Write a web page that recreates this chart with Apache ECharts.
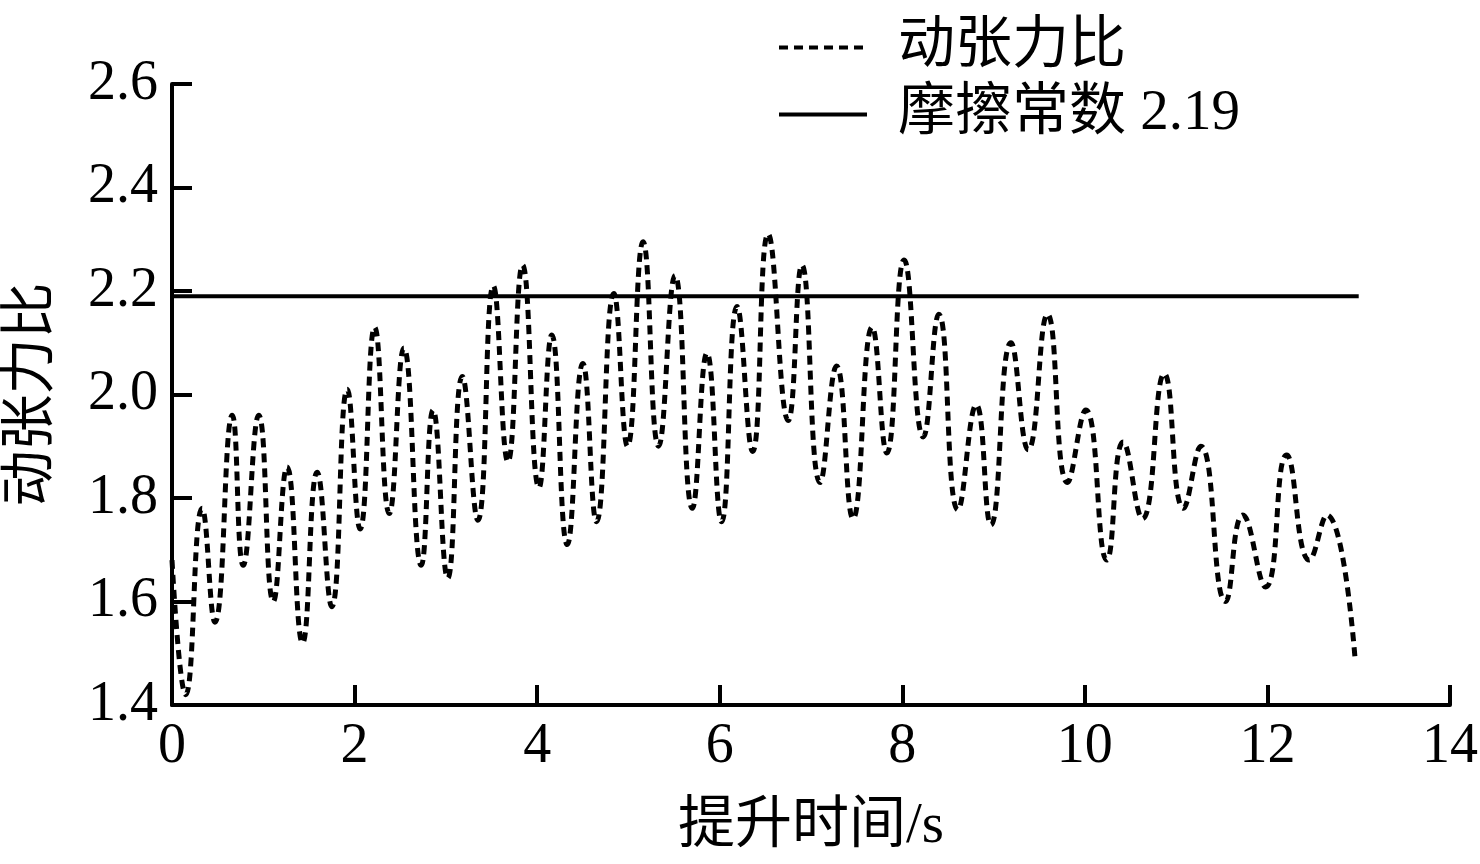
<!DOCTYPE html>
<html>
<head>
<meta charset="utf-8">
<script src="https://cdn.jsdelivr.net/npm/echarts@6/dist/echarts.min.js"></script>
<style>
html,body{margin:0;padding:0;background:#fff;}
#chart{width:1480px;height:864px;}
</style>
</head>
<body>
<div id="chart"></div>
<script>
// time (s) of curve turning points
var times = [0, 0.15, 0.33, 0.47, 0.66, 0.78, 0.95, 1.11, 1.26, 1.43, 1.59, 1.75, 1.92, 2.06, 2.22, 2.38, 2.54, 2.73, 2.86, 3.02, 3.18, 3.35, 3.52, 3.68, 3.84, 4.02, 4.16, 4.33, 4.50, 4.65, 4.84, 4.99, 5.16, 5.33, 5.51, 5.70, 5.86, 6.02, 6.19, 6.36, 6.53, 6.75, 6.90, 7.10, 7.28, 7.46, 7.67, 7.83, 8.02, 8.23, 8.40, 8.61, 8.81, 8.97, 9.19, 9.38, 9.59, 9.81, 10.01, 10.24, 10.42, 10.63, 10.87, 11.08, 11.27, 11.54, 11.73, 11.98, 12.21, 12.46, 12.65, 12.96];
// dynamic tension ratio
var ratios = [1.68, 1.42, 1.78, 1.56, 1.96, 1.67, 1.96, 1.60, 1.86, 1.52, 1.85, 1.59, 2.01, 1.74, 2.13, 1.77, 2.09, 1.67, 1.97, 1.645, 2.035, 1.757, 2.21, 1.87, 2.25, 1.82, 2.115, 1.71, 2.06, 1.754, 2.195, 1.90, 2.295, 1.90, 2.23, 1.78, 2.08, 1.754, 2.17, 1.89, 2.31, 1.95, 2.25, 1.83, 2.055, 1.76, 2.13, 1.887, 2.26, 1.918, 2.155, 1.777, 1.98, 1.748, 2.10, 1.893, 2.155, 1.83, 1.97, 1.68, 1.908, 1.76, 2.04, 1.78, 1.90, 1.60, 1.767, 1.628, 1.883, 1.68, 1.767, 1.49];
// friction constant line
var frictionX = [0, 13];
var frictionValue = 2.19;
var seriesNames = ['动张力比', '摩擦常数 2.19'];
var xTicks = [0, 2, 4, 6, 8, 10, 12, 14];
var yTicks = [1.4, 1.6, 1.8, 2.0, 2.2, 2.4, 2.6];

var FONT = "'Liberation Serif', 'Noto Sans CJK SC', serif";
var chart = echarts.init(document.getElementById('chart'));
var ratioData = times.map(function (t, i) { return [t, ratios[i]]; });
var frictionData = frictionX.map(function (t) { return [t, frictionValue]; });

chart.setOption({
  backgroundColor: '#fff',
  animation: false,
  grid: { left: 172, right: 30, top: 84, bottom: 159, containLabel: false, outerBoundsMode: 'none' },
  legend: {
    orient: 'vertical',
    left: 772,
    top: 14,
    itemWidth: 88,
    itemHeight: 20,
    itemGap: 10,
    data: seriesNames,
    itemStyle: { opacity: 0 },
    lineStyle: { width: 4 },
    textStyle: { fontFamily: FONT, fontSize: 57, color: '#000', padding: [0, 0, 0, 26] }
  },
  xAxis: {
    type: 'value',
    min: xTicks[0], max: xTicks[xTicks.length - 1], interval: 2,
    name: '提升时间/s',
    nameLocation: 'middle',
    nameGap: 94,
    nameTextStyle: { fontFamily: FONT, fontSize: 57, color: '#000' },
    axisLine: { show: true, lineStyle: { color: '#000', width: 4 } },
    axisTick: { show: true, inside: true, length: 20, lineStyle: { color: '#000', width: 4 } },
    axisLabel: { fontFamily: FONT, fontSize: 56, color: '#000', margin: 14 },
    splitLine: { show: false }
  },
  yAxis: {
    type: 'value',
    min: yTicks[0], max: yTicks[yTicks.length - 1], interval: 0.2,
    name: '动张力比',
    nameLocation: 'middle',
    nameGap: 112,
    nameRotate: 90,
    nameTextStyle: { fontFamily: FONT, fontSize: 56, color: '#000' },
    axisLine: { show: true, lineStyle: { color: '#000', width: 4 } },
    axisTick: { show: true, inside: true, length: 20, lineStyle: { color: '#000', width: 4 } },
    axisLabel: { fontFamily: FONT, fontSize: 56, color: '#000', margin: 14,
      formatter: function (v) { return v.toFixed(1); } },
    splitLine: { show: false }
  },
  series: [
    {
      name: seriesNames[0],
      type: 'line',
      data: ratioData,
      smooth: 0.5,
      symbol: 'none',
      lineStyle: { color: '#000', width: 5, type: [9, 6] },
      itemStyle: { color: '#000' }
    },
    {
      name: seriesNames[1],
      type: 'line',
      data: frictionData,
      symbol: 'none',
      lineStyle: { color: '#000', width: 4, type: 'solid' },
      itemStyle: { color: '#000' }
    }
  ]
});
</script>
</body>
</html>
